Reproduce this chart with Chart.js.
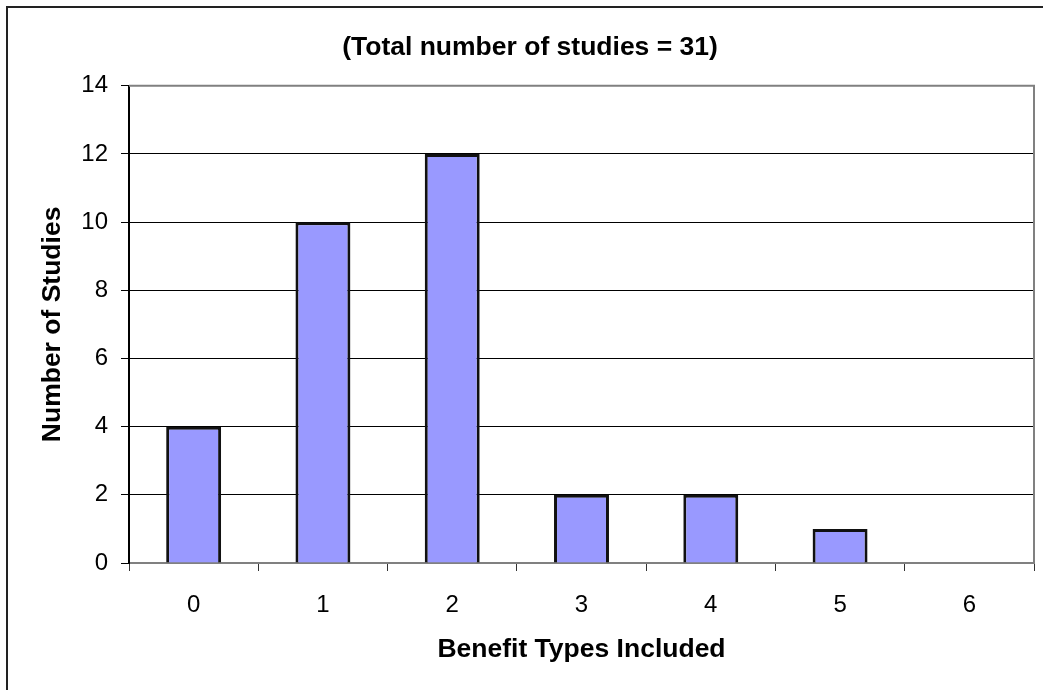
<!DOCTYPE html>
<html>
<head>
<meta charset="utf-8">
<script src="https://cdn.jsdelivr.net/npm/chart.js@4"></script>
<style>
    body { margin: 0; background: #fff; overflow: hidden; }
    #wrap { position: relative; width: 1043px; height: 690px; }
    #frame { position: absolute; left: 6px; top: 6px; width: 1100px; height: 760px; border: 2px solid #222; }
    canvas { position: absolute; left: 0; top: 0; }
</style>
</head>
<body>
<div id="wrap">
    <div id="frame"></div>
    <canvas id="chart" width="1043" height="690"></canvas>
</div>
<script>
const categories = ['0', '1', '2', '3', '4', '5', '6'];
const studyCounts = [4, 10, 12, 2, 2, 1, 0];
const yTicks = [0, 2, 4, 6, 8, 10, 12, 14];

const titleText = '(Total number of studies = 31)';
const xTitle = 'Benefit Types Included';
const yTitle = 'Number of Studies';

const fontFamily = '"Liberation Sans", Arial, sans-serif';

// grey border on the top and right of the plot area
const plotBorder = {
    id: 'plotBorder',
    beforeDatasetsDraw(chart) {
        const { ctx, chartArea } = chart;
        ctx.save();
        ctx.strokeStyle = '#808080';
        ctx.lineWidth = 2;
        ctx.beginPath();
        ctx.moveTo(chartArea.left, chartArea.top);
        ctx.lineTo(chartArea.right, chartArea.top);
        ctx.lineTo(chartArea.right, chartArea.bottom);
        ctx.stroke();
        ctx.restore();
    }
};

const ctx = document.getElementById('chart').getContext('2d');
new Chart(ctx, {
    type: 'bar',
    data: {
        labels: categories,
        datasets: [{
            data: studyCounts,
            backgroundColor: '#9999FF',
            borderColor: '#111',
            borderWidth: 3,
            barPercentage: 0.425,
            categoryPercentage: 1
        }]
    },
    options: {
        responsive: false,
        devicePixelRatio: 1,
        animation: false,
        layout: { padding: { left: 26, right: 9, top: 0, bottom: 0 } },
        plugins: {
            legend: { display: false },
            tooltip: { enabled: false },
            title: {
                display: true,
                text: titleText,
                color: '#000',
                font: { family: fontFamily, size: 26.5, weight: 'bold' },
                padding: { top: 32, bottom: 22 }
            }
        },
        scales: {
            x: {
                grid: {
                    offset: true,
                    drawOnChartArea: false,
                    tickLength: 8,
                    tickColor: '#333',
                    tickWidth: 1
                },
                border: { color: '#808080', width: 2 },
                ticks: {
                    color: '#000',
                    font: { family: fontFamily, size: 24 },
                    padding: 20
                },
                title: {
                    display: true,
                    text: xTitle,
                    color: '#000',
                    font: { family: fontFamily, size: 26.5, weight: 'bold' },
                    padding: 24
                },
                afterFit(scale) { scale.height = 127; }
            },
            y: {
                min: 0,
                max: 14,
                afterBuildTicks(scale) { scale.ticks = yTicks.map(v => ({ value: v })); },
                grid: {
                    color: '#000',
                    lineWidth: 1,
                    tickLength: 8,
                    tickColor: '#000'
                },
                border: { color: '#000', width: 2 },
                ticks: {
                    color: '#000',
                    font: { family: fontFamily, size: 24 },
                    padding: 13
                },
                title: {
                    display: true,
                    text: yTitle,
                    color: '#000',
                    font: { family: fontFamily, size: 26.5, weight: 'bold' },
                    padding: 11
                },
                afterFit(scale) { scale.width = 103; }
            }
        }
    },
    plugins: [plotBorder]
});
</script>
</body>
</html>
